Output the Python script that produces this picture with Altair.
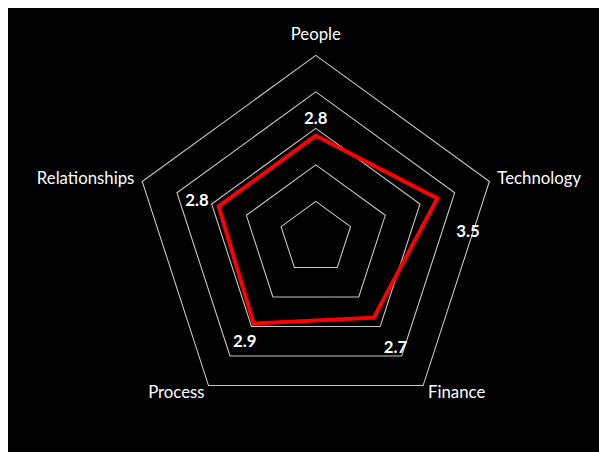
import altair as alt
import pandas as pd

# ---- data ----
categories = ["People", "Technology", "Finance", "Process", "Relationships"]
values = [2.8, 3.5, 2.7, 2.9, 2.8]
value_labels = ["2.8", "3.5", "2.7", "2.9", "2.8"]
ring_levels = [1, 2, 3, 4, 5]

n = len(categories)
outer = max(ring_levels)

df = pd.DataFrame({
    "category": categories,
    "value": values,
    "label": value_labels,
    "idx": list(range(n)),
})
rings = pd.DataFrame(
    [{"level": r, "idx": i} for r in ring_levels for i in range(n)]
)

W, H = 599, 444
xscale = alt.Scale(domain=[-8.432, 7.757], nice=False, zero=False)
yscale = alt.Scale(domain=[-5.784, 6.216], nice=False, zero=False)

ang = f"datum.idx * 2 * PI / {n}"

X = lambda f: alt.X(f"{f}:Q", scale=xscale, axis=None)
Y = lambda f: alt.Y(f"{f}:Q", scale=yscale, axis=None)

ring_layer = (
    alt.Chart(rings)
    .transform_calculate(
        px=f"datum.level * sin({ang})",
        py=f"datum.level * cos({ang})",
    )
    .mark_line(interpolate="linear-closed", color="#c8c8c8", strokeWidth=1.1)
    .encode(x=X("px"), y=Y("py"), detail="level:N", order="idx:Q")
)

series_layer = (
    alt.Chart(df)
    .transform_calculate(
        px=f"datum.value * sin({ang})",
        py=f"datum.value * cos({ang})",
    )
    .mark_line(interpolate="linear-closed", color="#ff0000", strokeWidth=4)
    .encode(x=X("px"), y=Y("py"), order="idx:Q")
)

FONT = "Lato"


def cat_label(name, align, dx, dy):
    return (
        alt.Chart(df)
        .transform_filter(alt.datum.category == name)
        .transform_calculate(
            px=f"{outer} * sin({ang})",
            py=f"{outer} * cos({ang})",
        )
        .mark_text(align=align, baseline="middle", dx=dx, dy=dy,
                   font=FONT, fontSize=17, color="white")
        .encode(x=X("px"), y=Y("py"), text="category:N")
    )


def val_label(name, dx, dy):
    return (
        alt.Chart(df)
        .transform_filter(alt.datum.category == name)
        .transform_calculate(
            px=f"datum.value * sin({ang})",
            py=f"datum.value * cos({ang})",
        )
        .mark_text(align="center", baseline="middle", dx=dx, dy=dy,
                   font=FONT, fontSize=17, fontWeight="bold", color="white")
        .encode(x=X("px"), y=Y("py"), text="label:N")
    )


cat_layers = [
    cat_label("People", "center", 0, -21),
    cat_label("Technology", "left", 8, -2),
    cat_label("Finance", "left", 5, 8),
    cat_label("Process", "right", -4, 8),
    cat_label("Relationships", "right", -8, -2),
]
val_layers = [
    val_label("People", 0, -17),
    val_label("Technology", 31, 34),
    val_label("Finance", 22, 31),
    val_label("Process", -9, 19),
    val_label("Relationships", -22, -5),
]

chart = (
    alt.layer(ring_layer, series_layer, *cat_layers, *val_layers)
    .properties(
        width=W,
        height=H,
        autosize=alt.AutoSizeParams(type="none"),
        padding=0,
        background="black",
    )
    .configure_view(stroke=None)
)

chart.save("out.html", embed_options={"renderer": "svg", "actions": False})
